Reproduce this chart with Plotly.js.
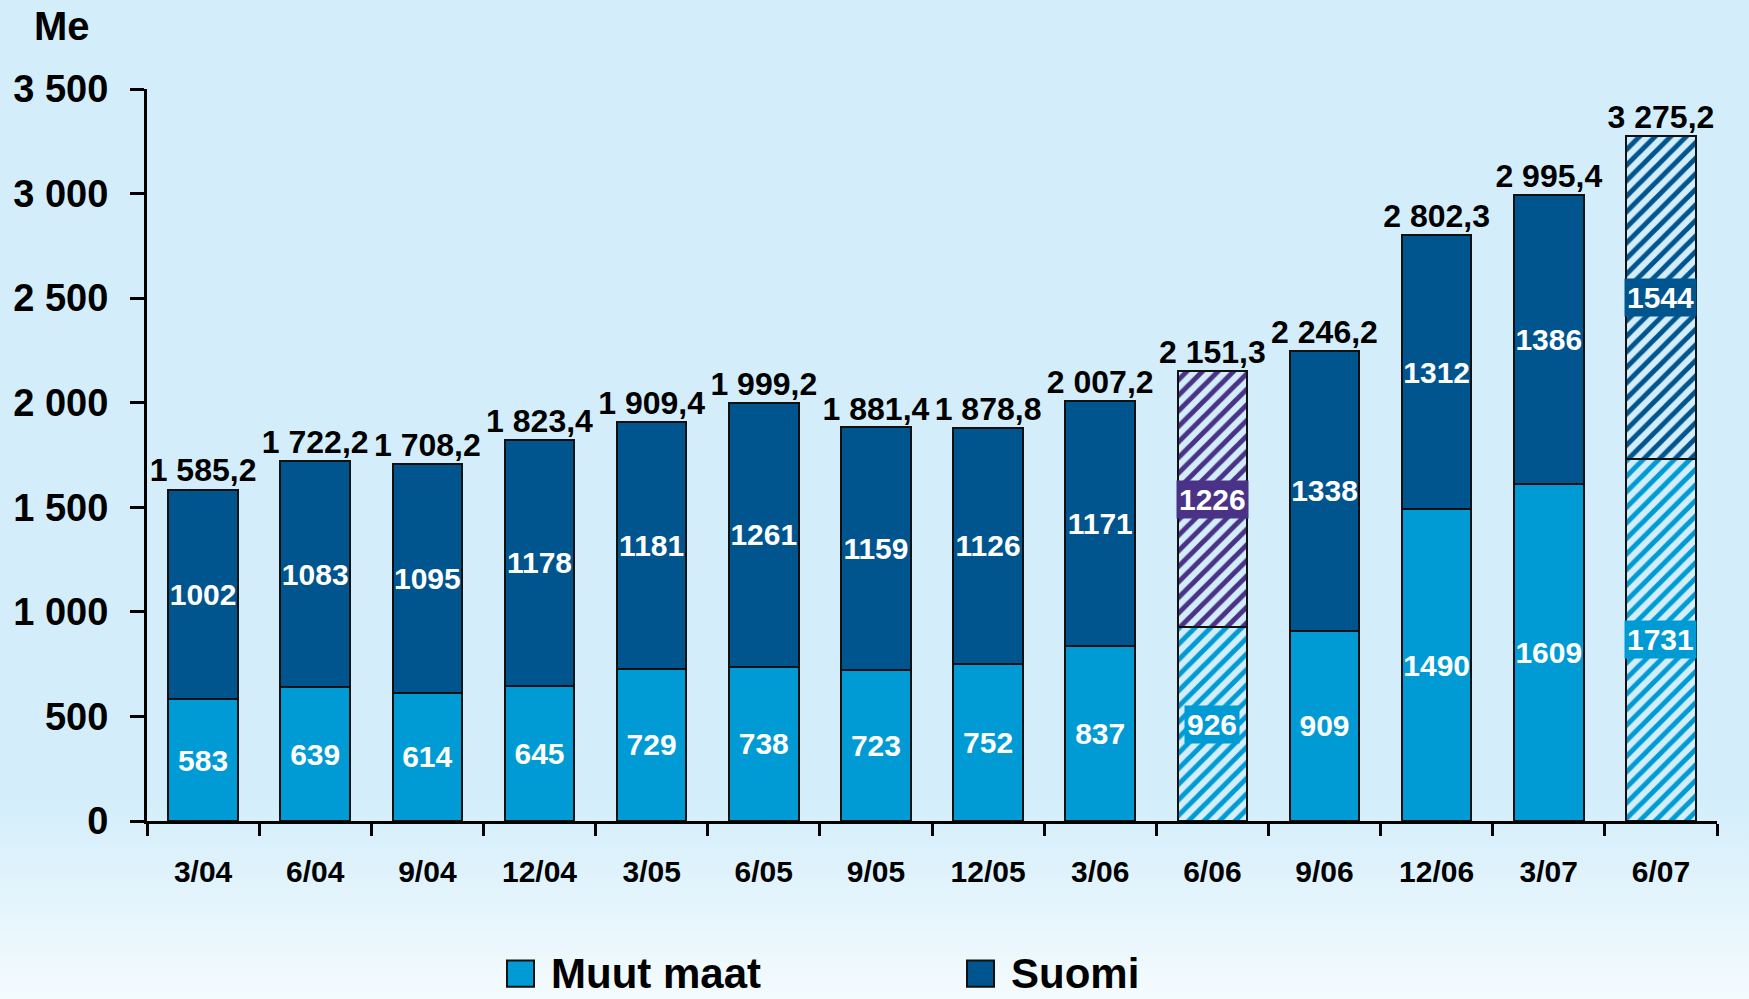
<!DOCTYPE html>
<html>
<head>
<meta charset="utf-8">
<script src="https://cdn.plot.ly/plotly-3.0.1.min.js"></script>
<style>
  html, body { margin: 0; padding: 0; }
  body {
    width: 1749px; height: 999px; overflow: hidden;
    background: linear-gradient(to bottom, #D3EEFA 0%, #D3EEFA 80%, #E4F4FC 90%, #F4FBFE 100%);
  }
  #chart { width: 1749px; height: 999px; }
</style>
</head>
<body>
<div id="chart"></div>
<script>
// ---- data ----
const categories = ["3/04","6/04","9/04","12/04","3/05","6/05","9/05","12/05","3/06","6/06","9/06","12/06","3/07","6/07"];
const muutMaat   = [583, 639, 614, 645, 729, 738, 723, 752, 837, 926, 909, 1490, 1609, 1731];
const suomi      = [1002, 1083, 1095, 1178, 1181, 1261, 1159, 1126, 1171, 1226, 1338, 1312, 1386, 1544];
const totals     = [1585.2, 1722.2, 1708.2, 1823.4, 1909.4, 1999.2, 1881.4, 1878.8, 2007.2, 2151.3, 2246.2, 2802.3, 2995.4, 3275.2];
const hatched    = [false, false, false, false, false, false, false, false, false, true, false, false, false, true];
const seriesNames = ["Muut maat", "Suomi"];
const yTicks     = [0, 500, 1000, 1500, 2000, 2500, 3000, 3500];
const unitLabel  = "Me";

// ---- styles ----
const cMuut = "#009BD5";
const cSuomi = "#00558F";
const cSuomiHatch06 = "#4A3286";
const font = "Arial, 'Liberation Sans', sans-serif";

const suomiColors = categories.map((c, i) => (hatched[i] && i !== categories.length - 1) ? cSuomiHatch06 : cSuomi);

function barTrace(name, vals, colors) {
  return {
    type: "bar", name: name, x: categories, y: vals,
    text: vals.map((v, i) => hatched[i] ? "" : String(v)),
    textposition: "inside", insidetextanchor: "middle", constraintext: "none", textangle: 0,
    textfont: { family: font, size: 30, color: "white", weight: "bold" },
    marker: {
      color: colors,
      line: { color: "#111111", width: 2 },
      pattern: { shape: hatched.map(h => h ? "/" : ""), bgcolor: "white", size: 11, solidity: 0.45, fillmode: "replace" }
    },
    showlegend: false, hoverinfo: "x+y+name"
  };
}

const traces = [
  barTrace(seriesNames[0], muutMaat, categories.map(() => cMuut)),
  barTrace(seriesNames[1], suomi, suomiColors),
  {
    type: "scatter", mode: "text", x: categories, y: totals,
    texttemplate: "%{y:,.1f}", textposition: "top center",
    textfont: { family: font, size: 32, color: "black", weight: "bold" },
    cliponaxis: false, showlegend: false, hoverinfo: "skip"
  }
];

// boxed labels on hatched segments
const annotations = [];
categories.forEach((c, i) => {
  if (!hatched[i]) return;
  annotations.push({
    x: c, y: muutMaat[i] / 2, xref: "x", yref: "y", text: String(muutMaat[i]), showarrow: false,
    bgcolor: cMuut, borderpad: 2, font: { family: font, size: 30, color: "white", weight: "bold" }
  });
  annotations.push({
    x: c, y: muutMaat[i] + suomi[i] / 2, xref: "x", yref: "y", text: String(suomi[i]), showarrow: false,
    bgcolor: suomiColors[i], borderpad: 2, font: { family: font, size: 30, color: "white", weight: "bold" }
  });
});

// unit label
annotations.push({
  xref: "paper", yref: "paper", x: 0, y: 1, xanchor: "center", yanchor: "middle",
  xshift: -85, yshift: 63, text: "<b>" + unitLabel + "</b>", showarrow: false,
  font: { family: font, size: 40, color: "black" }
});

// manual legend (large swatches)
const legendColors = [cMuut, cSuomi];
const legendX = [0.2293, 0.5223];
const shapes = [];
seriesNames.forEach((n, k) => {
  shapes.push({
    type: "rect", xref: "paper", yref: "paper",
    x0: legendX[k], x1: legendX[k] + 0.0172, y0: -0.2265, y1: -0.1905,
    fillcolor: legendColors[k], line: { color: "#111111", width: 2 }
  });
  annotations.push({
    xref: "paper", yref: "paper", x: legendX[k] + 0.027, y: -0.2085, xanchor: "left", yanchor: "middle",
    text: "<b>" + n + "</b>", showarrow: false, font: { family: font, size: 42, color: "black" }
  });
});

const layout = {
  width: 1749, height: 999,
  paper_bgcolor: "rgba(0,0,0,0)", plot_bgcolor: "rgba(0,0,0,0)",
  margin: { l: 147, r: 32, t: 89, b: 178 },
  separators: ", ",
  barmode: "stack", bargap: 0.38,
  showlegend: false,
  font: { family: font, color: "black" },
  xaxis: {
    type: "category", range: [-0.5, categories.length - 0.5],
    showline: true, linewidth: 3, linecolor: "black",
    ticks: "outside", tickson: "boundaries", ticklen: 12, tickwidth: 3, tickcolor: "black",
    ticklabelstandoff: 22,
    tickfont: { family: font, size: 30, color: "black", weight: "bold" },
    showgrid: false, zeroline: false, fixedrange: true
  },
  yaxis: {
    range: [0, 3500], tickvals: yTicks, tickformat: ",d",
    showline: true, linewidth: 3, linecolor: "black",
    ticks: "outside", ticklen: 14, tickwidth: 3, tickcolor: "black",
    ticklabelstandoff: 14,
    tickfont: { family: font, size: 38, color: "black", weight: "bold" },
    showgrid: false, zeroline: false, fixedrange: true
  },
  annotations: annotations,
  shapes: shapes
};

Plotly.newPlot("chart", traces, layout, { displayModeBar: false, staticPlot: true });
</script>
</body>
</html>
